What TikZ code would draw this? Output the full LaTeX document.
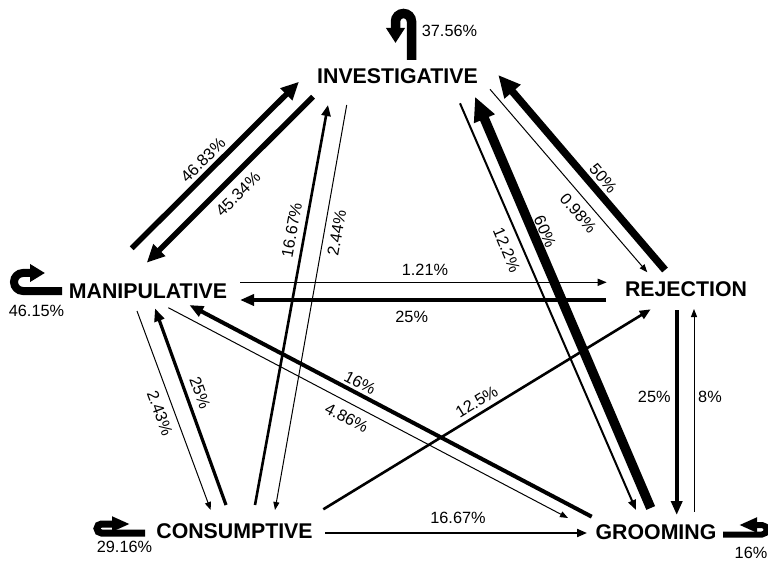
\documentclass[tikz,border=0pt]{standalone}
\usepackage{fontspec}
\setmainfont{Liberation Sans}
\usetikzlibrary{arrows.meta,calc}
\tikzset{
  state/.style={font=\fontsize{21.3}{24}\selectfont\bfseries, inner sep=0pt},
  pct/.style={font=\fontsize{16.3}{19}\selectfont, inner sep=0pt},
  e1/.style={line width=1pt, -{Triangle[length=8pt,width=6pt]}},
  e15/.style={line width=1.5pt, -{Triangle[length=9pt,width=7pt]}},
  e2/.style={line width=2pt, -{Triangle[length=10pt,width=8pt]}},
  e25/.style={line width=2.6pt, -{Triangle[length=11pt,width=9pt]}},
  e3/.style={line width=3.2pt, -{Triangle[length=13pt,width=10pt]}},
  e4/.style={line width=4pt, -{Triangle[length=14pt,width=11pt]}},
  e5/.style={line width=5.5pt, -{Triangle[length=18pt,width=16pt]}},
  e7/.style={line width=7.5pt, -{Triangle[length=22pt,width=20pt]}},
  e9/.style={line width=9.5pt, -{Triangle[length=24pt,width=21pt]}},
}
\begin{document}
\begin{tikzpicture}[x=1pt,y=1pt]
\useasboundingbox (0,0) rectangle (768,563);
\clip (0,0) rectangle (768,563);
% states
\node[state] (I) at (397.5,486.5) {INVESTIGATIVE};
\node[state] (M) at (148,272) {MANIPULATIVE};
\node[state] (R) at (686,273.5) {REJECTION};
\node[state] (C) at (234.5,31.5) {CONSUMPTIVE};
\node[state] (G) at (656,31) {GROOMING};
% self loops
\draw[line width=9.5pt, -{Triangle[length=15pt,width=18pt]}]
  ($(I)+(14,16.5)$) -- ($(I)+(14,55)$) arc[start angle=0,end angle=180,radius=8] -- ($(I)+(-2,33.5)$);
\draw[line width=8pt, -{Triangle[length=15pt,width=17pt]}]
  ($(M)+(-86,0)$) -- ($(M)+(-125,0)$) arc[start angle=270,end angle=90,radius=9] -- ($(M)+(-103,18)$);
\draw[line width=7pt, -{Triangle[length=18pt,width=14pt]}]
  ($(C)+(-89.5,-1.5)$) -- ($(C)+(-133,-1.5)$) arc[start angle=270,end angle=90,radius=4.5] -- ($(C)+(-104.5,7.5)$);
\draw[line width=6pt, -{Triangle[length=18pt,width=14pt]}]
  ($(G)+(67,-2.5)$) -- ($(G)+(106,-2.5)$) arc[start angle=-90,end angle=90,radius=4.75] -- ($(G)+(83,7)$);
\node[pct] (l1) at (449.5,532) {37.56\%};
\node[pct] (l2) at (36.5,252) {46.15\%};
\node[pct] (l3) at (124.5,16) {29.16\%};
\node[pct] (l4) at (751,10) {16\%};
% edges
\draw[e5] ($(M)+(-16.3,42.7)$) -- ($(I)+(-98.5,-5.2)$);
\draw[e5] ($(I)+(-84.5,-20.2)$) -- ($(M)+(-1.3,28.3)$);
\draw[e25] ($(C)+(20.5,26.5)$) -- ($(I)+(-69.5,-28.5)$);
\draw[e1] ($(I)+(-50.8,-28.5)$) -- ($(C)+(40.5,21.5)$);
\draw[e2] ($(I)+(62.5,-26.8)$) -- ($(G)+(-20,22)$);
\draw[e9] ($(G)+(-5.3,24)$) -- ($(I)+(77.5,-20.2)$);
\draw[e7] ($(R)+(-21,19.5)$) -- ($(I)+(100.8,1.5)$);
\draw[e1] ($(I)+(92.5,-12.8)$) -- ($(R)+(-38.7,17.2)$);
\draw[e15] ($(M)+(92,8.7)$) -- ($(R)+(-79.3,7.2)$);
\draw[e4] ($(R)+(-80,-10.5)$) -- ($(M)+(92,-9)$);
\draw[e1] ($(M)+(-11,-20)$) -- ($(C)+(-23.8,21.5)$);
\draw[e3] ($(C)+(-8.5,26.5)$) -- ($(M)+(7,-17.3)$);
\draw[e1] ($(M)+(20.3,-16.7)$) -- ($(G)+(-88,14)$);
\draw[e4] ($(G)+(-64.3,15.3)$) -- ($(M)+(41.3,-14)$);
\draw[e25] ($(C)+(88.8,22.2)$) -- ($(R)+(-35.3,-19.8)$);
\draw[e2] ($(C)+(90.5,-1.5)$) -- ($(G)+(-69,-1)$);
\draw[e4] ($(R)+(-9.3,-20.5)$) -- ($(G)+(20.7,17)$);
\draw[e1] ($(G)+(38,20.3)$) -- ($(R)+(8,-19.5)$);
% edge labels
\node[pct,rotate=44.8] (a1) at (203,403) {46.83\%};
\node[pct,rotate=44.8] (a2) at (238,369) {45.34\%};
\node[pct,rotate=79.7] (a3) at (291.7,333) {16.67\%};
\node[pct,rotate=80] (a4) at (336.7,330) {2.44\%};
\node[pct,rotate=-67.5] (a5) at (506.7,313) {12.2\%};
\node[pct,rotate=-66.9] (a6) at (545,331.3) {60\%};
\node[pct,rotate=-49.5] (a7) at (603.3,384.7) {50\%};
\node[pct,rotate=-49] (a8) at (578.3,349.7) {0.98\%};
\node[pct] (a9) at (425,293) {1.21\%};
\node[pct] (a10) at (411.7,246.3) {25\%};
\node[pct,rotate=-69.7] (a11) at (160,150) {2.43\%};
\node[pct,rotate=-70.2] (a12) at (200,170.3) {25\%};
\node[pct,rotate=-27.7] (a13) at (346.7,145) {4.86\%};
\node[pct,rotate=-27.7] (a14) at (360,180) {16\%};
\node[pct,rotate=31.4] (a15) at (476.7,161.3) {12.5\%};
\node[pct] (a16) at (458,45) {16.67\%};
\node[pct] (a17) at (654.3,166.3) {25\%};
\node[pct] (a18) at (710,166.3) {8\%};
\end{tikzpicture}
\end{document}
